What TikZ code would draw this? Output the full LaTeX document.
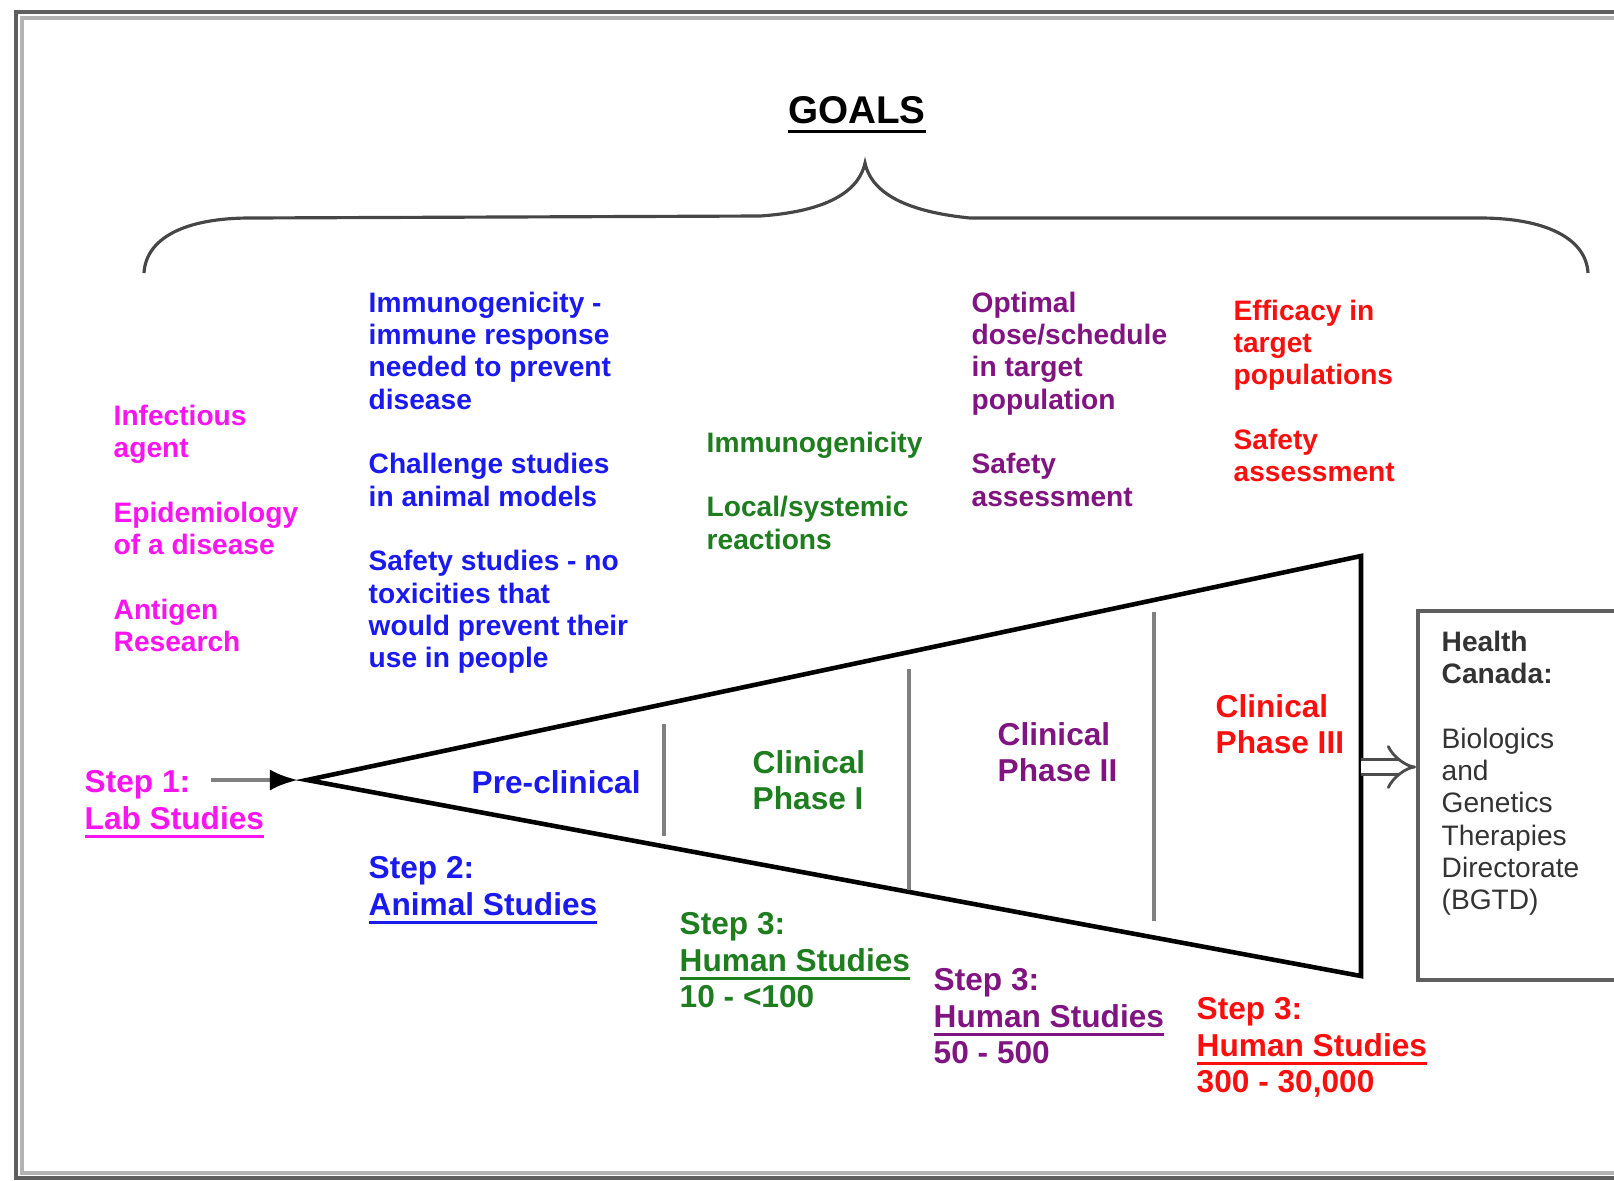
\documentclass[tikz,border=0pt]{standalone}
\usepackage{fontspec}
\setmainfont{Liberation Sans}
\usetikzlibrary{arrows.meta}

\definecolor{labpink}{RGB}{250,20,240}
\definecolor{animblue}{RGB}{25,25,240}
\definecolor{phaseone}{RGB}{30,125,30}
\definecolor{phasetwo}{RGB}{128,20,128}
\definecolor{phasethree}{RGB}{250,15,15}
\definecolor{framegray}{RGB}{95,95,95}

\newsavebox\ulbox
\newcommand\thickul[1]{\sbox\ulbox{#1}\rlap{\usebox\ulbox}\rule[-2.6pt]{\wd\ulbox}{0.9pt}}

\begin{document}
\begin{tikzpicture}[x=0.01cm,y=-0.01cm,
  goal/.style={anchor=north west,align=left,inner sep=0pt,font=\bfseries\fontsize{8}{9.2}\selectfont},
  stage/.style={anchor=north west,align=left,inner sep=0pt,font=\bfseries\fontsize{9}{10.3}\selectfont},
  note/.style={anchor=north west,align=left,inner sep=0pt,font=\fontsize{8}{9.2}\selectfont}]
\useasboundingbox (0,0) rectangle (1614,1181);

% frame
\draw[framegray,line width=1.2pt] (1614,12) -- (16,12) -- (16,1178) -- (1614,1178);
\draw[gray!60,line width=1pt] (1614,18) -- (22,18) -- (22,1173) -- (1614,1173);

% goals and brace
\node[inner sep=0pt,font=\bfseries\fontsize{11}{13}\selectfont] (goals) at (857,115) {\thickul{GOALS}};
\draw[gray!55!black,line width=0.9pt] (144,273) .. controls (146,238) and (185,218) .. (250,218) -- (760,216)
  .. controls (820,212) and (858,195) .. (865,163) .. controls (872,195) and (910,212) .. (970,218)
  -- (1480,218) .. controls (1545,218) and (1586,238) .. (1588,273);

% goal texts
\node[goal,text=labpink] (labgoal) at (113,404) {Infectious\\agent\\[9.2pt]Epidemiology\\of a disease\\[9.2pt]Antigen\\Research};
\node[goal,text=animblue] (animgoal) at (368,291) {Immunogenicity -\\immune response\\needed to prevent\\disease\\[9.2pt]Challenge studies\\in animal models\\[9.2pt]Safety studies - no\\toxicities that\\would prevent their\\use in people};
\node[goal,text=phaseone] (onegoal) at (706,431) {Immunogenicity\\[9.2pt]Local/systemic\\reactions};
\node[goal,text=phasetwo] (twogoal) at (971,291) {Optimal\\dose/schedule\\in target\\population\\[9.2pt]Safety\\assessment};
\node[goal,text=phasethree] (threegoal) at (1233,299) {Efficacy in\\target\\populations\\[9.2pt]Safety\\assessment};

% funnel
\coordinate (apex) at (307,780);
\coordinate (topr) at (1361,556);
\coordinate (botr) at (1361,976);
\draw[line width=1.3pt,line join=miter] (apex) -- (topr) -- (botr) -- cycle;
\draw[gray,line width=0.9pt] (664,724) -- (664,836);
\draw[gray,line width=0.9pt] (909,669) -- (909,890);
\draw[gray,line width=0.9pt] (1154,612) -- (1154,921);

% stage names
\node[anchor=west,inner sep=0pt,font=\bfseries\fontsize{9}{10.3}\selectfont,text=animblue] (precl) at (471,782) {Pre-clinical};
\node[stage,text=phaseone] (phone) at (752,750) {Clinical\\Phase I};
\node[stage,text=phasetwo] (phtwo) at (997,722) {Clinical\\Phase II};
\node[stage,text=phasethree] (phthree) at (1215,694) {Clinical\\Phase III};

% steps
\node[stage,text=labpink] (lab) at (84,770) {Step 1:\\\thickul{Lab Studies}};
\node[stage,text=animblue] (animal) at (368,856) {Step 2:\\\thickul{Animal Studies}};
\node[stage,text=phaseone] (humone) at (679,912) {Step 3:\\\thickul{Human Studies}\\10 - <100};
\node[stage,text=phasetwo] (humtwo) at (933,968) {Step 3:\\\thickul{Human Studies}\\50 - 500};
\node[stage,text=phasethree] (humthree) at (1196,997) {Step 3:\\\thickul{Human Studies}\\300 - 30,000};

\coordinate (labout) at (211,780);
\draw[gray,line width=1.2pt,shorten >=0.09cm,-{Latex[black,length=8pt,width=6pt]}] (labout) -- (apex);

% regulator
\node[draw=framegray,line width=1.1pt,anchor=north west,minimum width=2.4cm,minimum height=3.69cm,inner sep=0pt] (hc) at (1416,609) {};
\node[note,text=black!80] (hctext) at (1441,630) {\textbf{Health}\\\textbf{Canada:}\\[9.2pt]Biologics\\and\\Genetics\\Therapies\\Directorate\\(BGTD)};
\coordinate (p3out) at (1361,767);
\draw[gray!60!black,double=white,line width=0.8pt,double distance=3.6pt,-{Implies[scale=1.3]}] (p3out) -- (p3out -| hc.west);
\end{tikzpicture}
\end{document}
